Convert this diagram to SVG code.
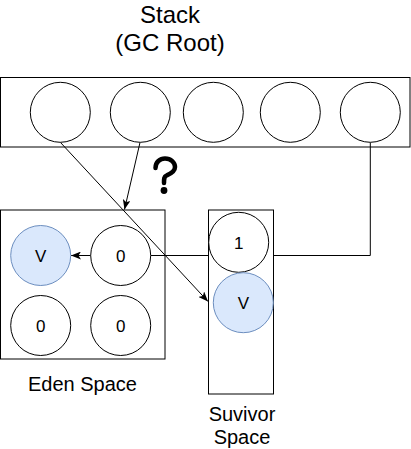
<svg xmlns="http://www.w3.org/2000/svg" width="411" height="449" viewBox="0 0 411 449">
<style>
  text { font-family: "Liberation Sans", Arial, Helvetica, sans-serif; fill: #000; text-anchor: middle; }
  .title { font-size: 24px; }
  .label { font-size: 20px; }
  .val { font-size: 17px; }
  .box { stroke: #000; stroke-width: 1; }
  .c { fill: #fff; stroke: #000; stroke-width: 1; }
  .cb { fill: #dae8fc; stroke: #6c8ebf; stroke-width: 1; }
  .edge { fill: none; stroke: #000; stroke-width: 1; }
</style>
<defs>
  <marker id="arr" viewBox="0 0 10 8" refX="10" refY="4" markerWidth="10" markerHeight="8" markerUnits="userSpaceOnUse" orient="auto">
    <path d="M0,0 L10,4 L0,8 L2.5,4 Z" fill="#000"/>
  </marker>
</defs>
<rect width="411" height="449" fill="#fff"/>

<g id="connectors">
  <path class="edge" d="M370.3,142.5 L370.3,255.5 L150.7,255.5"/>
  <path class="edge" d="M60.5,142.5 L208,301.5" marker-end="url(#arr)"/>
  <path class="edge" d="M140,142.5 L124.5,209.5" marker-end="url(#arr)"/>
  <path class="edge" d="M90.7,255.5 L71,255.5" marker-end="url(#arr)"/>
</g>

<g id="stack-title">
  <text class="title" x="170" y="23">Stack</text>
  <text class="title" x="170" y="51">(GC Root)</text>
</g>

<g id="stack">
  <rect class="box" x="0.5" y="77.5" width="409.5" height="69.5" fill="none"/>
  <circle class="c" cx="60.3" cy="112.3" r="30" fill="none"/>
  <circle class="c" cx="140.3" cy="112.3" r="30"/>
  <circle class="c" cx="213.3" cy="112.3" r="30"/>
  <circle class="c" cx="290.3" cy="112.3" r="30"/>
  <circle class="c" cx="370.3" cy="112.3" r="30"/>
</g>

<g id="question">
  <path d="M155.5,168 C155.5,162 160,158.5 165,158.5 C171,158.5 175,162.5 175,167 C175,172 170,174 166.5,175.5 C164,176.5 164,179 164,183" fill="none" stroke="#000" stroke-width="4.5" stroke-linecap="round"/>
  <circle cx="164" cy="190.5" r="3.4" fill="#000"/>
</g>

<g id="eden">
  <rect class="box" x="0.5" y="210" width="164.5" height="149" fill="none"/>
  <g id="eden-v">
    <circle class="cb" cx="40.7" cy="255.5" r="30"/>
    <text class="val" x="40.7" y="261.5">V</text>
  </g>
  <g id="eden-0a">
    <circle class="c" cx="120.7" cy="255.5" r="30"/>
    <text class="val" x="120.7" y="261.5">0</text>
  </g>
  <g id="eden-0b">
    <circle class="c" cx="40.7" cy="325.5" r="30"/>
    <text class="val" x="40.7" y="331.5">0</text>
  </g>
  <g id="eden-0c">
    <circle class="c" cx="120.7" cy="325.5" r="30"/>
    <text class="val" x="120.7" y="331.5">0</text>
  </g>
  <text class="label" x="82.5" y="391">Eden Space</text>
</g>

<g id="survivor">
  <rect class="box" x="208.5" y="210" width="65" height="184" fill="#fff"/>
  <g id="surv-1">
    <circle class="c" cx="238.7" cy="242.3" r="30"/>
    <text class="val" x="238.7" y="248.5">1</text>
  </g>
  <g id="surv-v">
    <circle class="cb" cx="243.3" cy="302.7" r="30"/>
    <text class="val" x="243.3" y="308.7">V</text>
  </g>
  <text class="label" x="242" y="421">Suvivor</text>
  <text class="label" x="242" y="444">Space</text>
</g>
</svg>
